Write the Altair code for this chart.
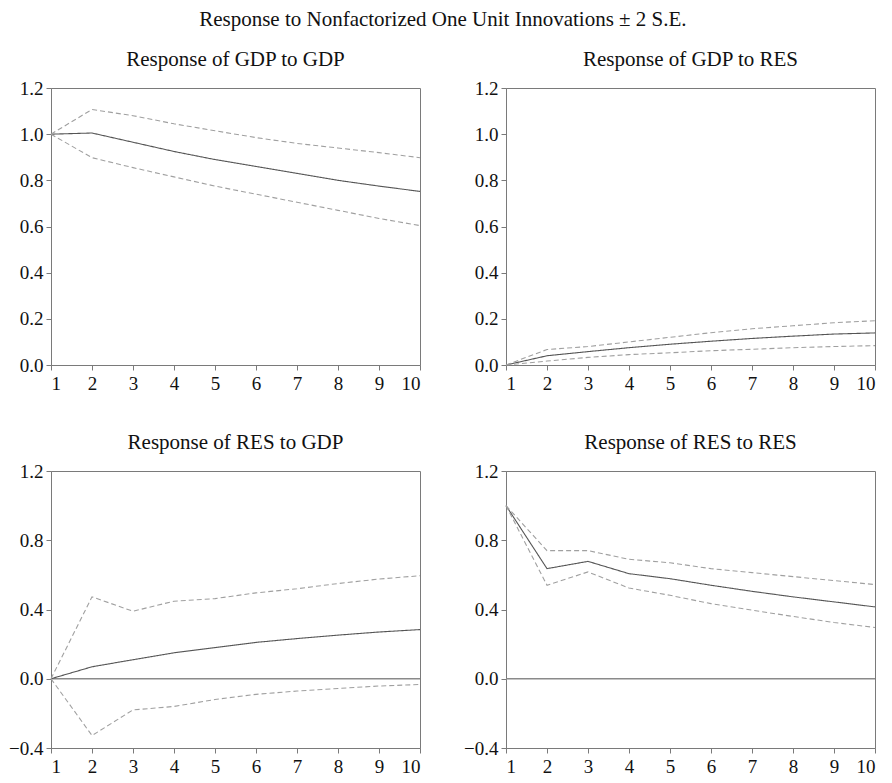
import altair as alt
import pandas as pd

steps = list(range(1, 11))

gdp_gdp_mid = [1.0, 1.005, 0.965, 0.925, 0.89, 0.86, 0.83, 0.80, 0.775, 0.752]
gdp_gdp_up = [1.0, 1.107, 1.08, 1.045, 1.015, 0.985, 0.96, 0.94, 0.92, 0.898]
gdp_gdp_lo = [1.0, 0.898, 0.855, 0.815, 0.775, 0.74, 0.705, 0.67, 0.635, 0.604]

gdp_res_mid = [0.0, 0.04, 0.058, 0.075, 0.09, 0.103, 0.115, 0.125, 0.134, 0.139]
gdp_res_up = [0.0, 0.067, 0.08, 0.1, 0.12, 0.14, 0.157, 0.17, 0.183, 0.192]
gdp_res_lo = [0.0, 0.017, 0.033, 0.045, 0.053, 0.062, 0.068, 0.075, 0.08, 0.084]

res_gdp_mid = [0.0, 0.069, 0.11, 0.15, 0.18, 0.21, 0.232, 0.252, 0.27, 0.284]
res_gdp_up = [0.0, 0.473, 0.39, 0.448, 0.463, 0.496, 0.52, 0.55, 0.576, 0.595]
res_gdp_lo = [0.0, -0.328, -0.18, -0.16, -0.12, -0.09, -0.071, -0.056, -0.042, -0.033]

res_res_mid = [1.0, 0.636, 0.678, 0.607, 0.578, 0.54, 0.505, 0.473, 0.444, 0.415]
res_res_up = [1.0, 0.74, 0.74, 0.69, 0.67, 0.636, 0.613, 0.59, 0.567, 0.544]
res_res_lo = [1.0, 0.54, 0.617, 0.524, 0.482, 0.434, 0.396, 0.36, 0.325, 0.296]

FONT = "Liberation Serif"
AXIS_GRAY = "#7a7a7a"


def frame(mid, up, lo):
    rows = []
    for name, vals in (("mid", mid), ("up", up), ("lo", lo)):
        for s, v in zip(steps, vals):
            rows.append({"step": s, "value": v, "series": name})
    return pd.DataFrame(rows)


def panel(title, mid, up, lo, domain, yticks, zero_line):
    df = frame(mid, up, lo)
    x = alt.X("step:Q", scale=alt.Scale(domain=[1, 10], nice=False),
              axis=alt.Axis(values=steps, format="d", title=None))
    y = alt.Y("value:Q", scale=alt.Scale(domain=domain, nice=False, zero=False),
              axis=alt.Axis(values=yticks, format=".1f", title=None))
    lines = alt.Chart(df).mark_line(strokeWidth=1.1).encode(
        x=x, y=y,
        color=alt.Color("series:N", scale=alt.Scale(domain=["mid", "up", "lo"],
                                                    range=["#555555", "#a0a0a0", "#a0a0a0"]),
                        legend=None),
        strokeDash=alt.StrokeDash("series:N", scale=alt.Scale(domain=["mid", "up", "lo"],
                                                              range=[[1, 0], [5, 3], [5, 3]]),
                                  legend=None),
        detail="series:N",
    )
    layers = [lines]
    if zero_line:
        rule = alt.Chart(pd.DataFrame({"z": [0.0]})).mark_rule(color="#8a8a8a", strokeWidth=1.5).encode(
            y=alt.Y("z:Q"))
        layers = [rule, lines]
    return alt.layer(*layers).properties(
        width=369, height=277,
        title=alt.TitleParams(title, fontSize=21, font=FONT, fontWeight="normal",
                              offset=9, color="#111111"),
    )


p1 = panel("Response of GDP to GDP", gdp_gdp_mid, gdp_gdp_up, gdp_gdp_lo,
           [0, 1.2], [0, 0.2, 0.4, 0.6, 0.8, 1.0, 1.2], False)
p2 = panel("Response of GDP to RES", gdp_res_mid, gdp_res_up, gdp_res_lo,
           [0, 1.2], [0, 0.2, 0.4, 0.6, 0.8, 1.0, 1.2], False)
p3 = panel("Response of RES to GDP", res_gdp_mid, res_gdp_up, res_gdp_lo,
           [-0.4, 1.2], [-0.4, 0.0, 0.4, 0.8, 1.2], True)
p4 = panel("Response of RES to RES", res_res_mid, res_res_up, res_res_lo,
           [-0.4, 1.2], [-0.4, 0.0, 0.4, 0.8, 1.2], True)

chart = alt.ConcatChart(
    concat=[p1, p2, p3, p4], columns=2,
    spacing={"row": 106, "column": 86}, bounds="flush",
).properties(
    title=alt.TitleParams("Response to Nonfactorized One Unit Innovations ± 2 S.E.",
                          fontSize=21, font=FONT, fontWeight="normal",
                          anchor="middle", offset=19, color="#111111"),
    padding={"left": 0, "top": 0, "right": 0, "bottom": 2},
).configure_view(
    stroke=AXIS_GRAY, strokeWidth=1,
).configure_axis(
    labelFont=FONT, labelFontSize=19, labelColor="#111111",
    domainColor=AXIS_GRAY, tickColor=AXIS_GRAY, tickSize=5,
    grid=False, labelPadding=3,
).configure_axisX(
    labelPadding=4,
)

chart.save("out.html", embed_options={"renderer": "svg", "actions": False})
